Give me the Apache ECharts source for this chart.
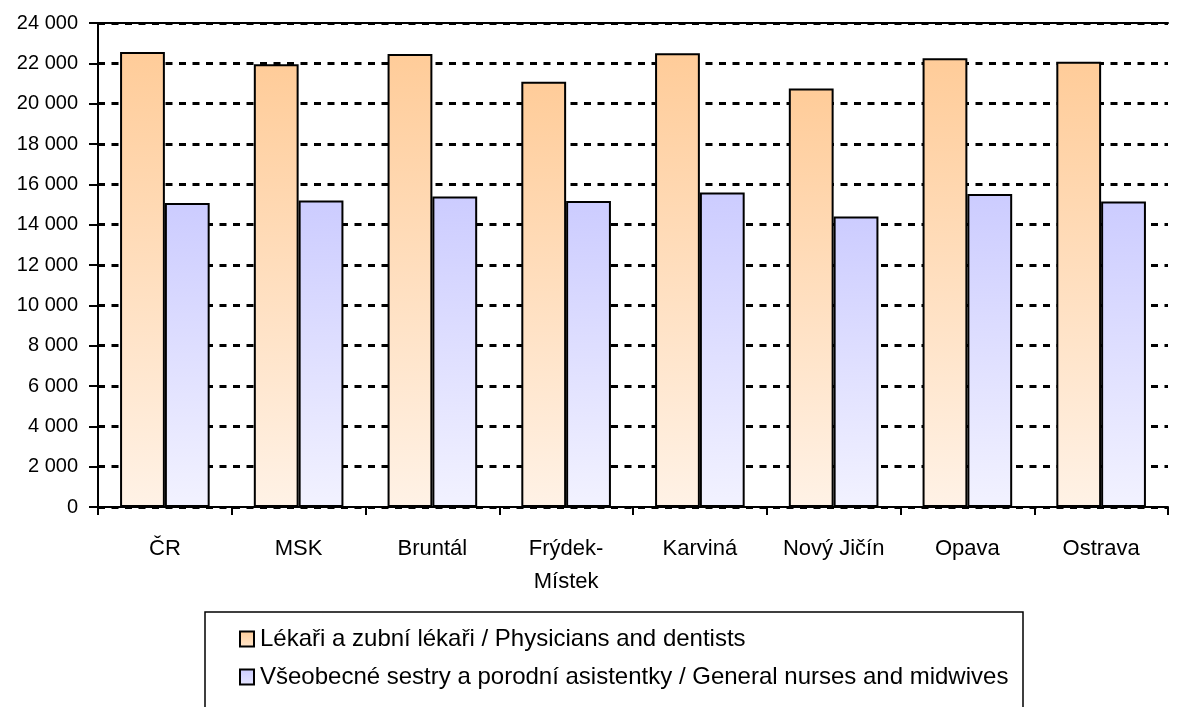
<!DOCTYPE html>
<html>
<head>
<meta charset="utf-8">
<script src="https://cdn.jsdelivr.net/npm/echarts@6/dist/echarts.min.js"></script>
<style>
html, body { margin: 0; padding: 0; background: #fff; }
#chart { width: 1178px; height: 707px; }
</style>
</head>
<body>
<div id="chart"></div>
<script>
var myChart = echarts.init(document.getElementById('chart'));

var categories = ['ČR', 'MSK', 'Bruntál', 'Frýdek-\nMístek', 'Karviná', 'Nový Jičín', 'Opava', 'Ostrava'];
var physicians = [22560, 21950, 22460, 21090, 22500, 20750, 22250, 22080];
var nurses = [15070, 15200, 15400, 15170, 15600, 14400, 15520, 15150];
var seriesNames = ['Lékaři a zubní lékaři / Physicians and dentists', 'Všeobecné sestry a porodní asistentky / General nurses and midwives'];

var font = '"Liberation Sans", Arial, sans-serif';

function grad(top, bottom) {
    return new echarts.graphic.LinearGradient(0, 0, 0, 1, [
        {offset: 0, color: top},
        {offset: 1, color: bottom}
    ]);
}

function fmt(v) {
    var s = String(v);
    if (v >= 1000) {
        s = s.slice(0, s.length - 3) + ' ' + s.slice(s.length - 3);
    }
    return s;
}

option = {
    animation: false,
    textStyle: {fontFamily: font},
    grid: {left: 98, right: 10, top: 23, bottom: 200},
    legend: {
        orient: 'vertical',
        left: 234,
        top: 622,
        itemGap: 14,
        itemWidth: 14,
        itemHeight: 15,
        icon: 'rect',
        itemStyle: {borderColor: '#000', borderWidth: 2},
        textStyle: {fontFamily: font, fontSize: 24, color: '#000', padding: [0, 0, 0, 1]},
        data: [
            {name: seriesNames[0], itemStyle: {color: grad('#FFCC99', '#FFE6CC')}},
            {name: seriesNames[1], itemStyle: {color: grad('#CCCCFF', '#E6E6FF')}}
        ]
    },
    graphic: [{
        type: 'rect',
        shape: {x: 205, y: 612, width: 818, height: 110},
        style: {fill: 'none', stroke: '#000', lineWidth: 1.5},
        z: -1
    }],
    xAxis: [{
        type: 'category',
        data: categories,
        axisLine: {lineStyle: {color: '#000', width: 2}},
        axisTick: {show: true, interval: 0, length: 8, lineStyle: {color: '#000', width: 2}},
        axisLabel: {color: '#000', interval: 0, fontSize: 22, margin: 25, lineHeight: 33, fontFamily: font}
    }, {
        type: 'category',
        position: 'top',
        data: categories,
        axisLine: {show: true, lineStyle: {color: '#000', width: 2}},
        axisTick: {show: false},
        axisLabel: {show: false}
    }],
    yAxis: {
        type: 'value',
        min: 0,
        max: 24000,
        interval: 2000,
        axisLine: {show: true, lineStyle: {color: '#000', width: 2}},
        axisTick: {show: true, length: 9, lineStyle: {color: '#000', width: 2}},
        axisLabel: {color: '#000', fontSize: 20, margin: 20, formatter: fmt, fontFamily: font},
        splitLine: {lineStyle: {color: '#000', width: 3, type: [7, 6.5]}}
    },
    series: [{
        name: seriesNames[0],
        type: 'bar',
        data: physicians,
        barGap: '0%',
        barCategoryGap: '33%',
        itemStyle: {color: grad('#FFCC99', '#FFF2E6'), borderColor: '#000', borderWidth: 2}
    }, {
        name: seriesNames[1],
        type: 'bar',
        data: nurses,
        itemStyle: {color: grad('#CCCCFF', '#F2F2FF'), borderColor: '#000', borderWidth: 2}
    }]
};
myChart.setOption(option);
</script>
</body>
</html>
